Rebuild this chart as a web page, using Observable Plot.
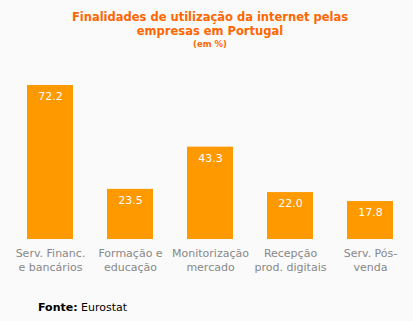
<!DOCTYPE html>
<html>
<head>
<meta charset="utf-8">
<script src="https://cdn.jsdelivr.net/npm/d3@7"></script>
<script src="https://cdn.jsdelivr.net/npm/@observablehq/plot@0.6"></script>
<style>
  html, body { margin: 0; padding: 0; background: #fafafa; width: 413px; height: 321px; overflow: hidden; }
  #title { position: absolute; left: 0; top: 0; width: 420px; text-align: center; color: #ff6600; font-family: "DejaVu Sans", sans-serif; font-weight: bold; }
  #title .l { font-size: 11.5px; line-height: 14px; }
  #title .s { font-size: 8.5px; line-height: 13px; }
  #chart { position: absolute; left: 0; top: 55px; }
  #caption { position: absolute; left: 38px; top: 301px; font-family: "DejaVu Sans", sans-serif; font-size: 11px; color: #000; }
</style>
</head>
<body>
<div id="title">
  <div style="height:10px"></div>
  <div class="l">Finalidades de utilização da internet pelas</div>
  <div class="l">empresas em Portugal</div>
  <div class="s">(em %)</div>
</div>
<div id="chart"></div>
<div id="caption"><b>Fonte:</b> Eurostat</div>
<script>
const categories = ["Serv. Financ.\ne bancários", "Formação e\neducação", "Monitorização\nmercado", "Recepção\nprod. digitais", "Serv. Pós-\nvenda"];
const values = [72.2, 23.5, 43.3, 22.0, 17.8];
const data = categories.map((c, i) => ({category: c, value: values[i]}));

const plot = Plot.plot({
  width: 413,
  height: 230,
  marginLeft: 8,
  marginRight: 1,
  marginTop: 30,
  marginBottom: 46,
  style: {background: "transparent", fontFamily: "DejaVu Sans, sans-serif", fontSize: "11px"},
  x: {domain: categories, paddingInner: 0.42, paddingOuter: 0.21, label: null},
  y: {domain: [0, 72.2], axis: null},
  marks: [
    Plot.barY(data, {x: "category", y: "value", fill: "#ff9900"}),
    Plot.text(data, {x: "category", y: "value", text: d => d.value.toFixed(1), dy: 11, fill: "white", fontSize: 11}),
    Plot.axisX({tickSize: 0, tickPadding: 7, lineHeight: 1.3, fill: "#888", fontSize: 11, label: null})
  ]
});
document.getElementById("chart").appendChild(plot);
</script>
</body>
</html>
